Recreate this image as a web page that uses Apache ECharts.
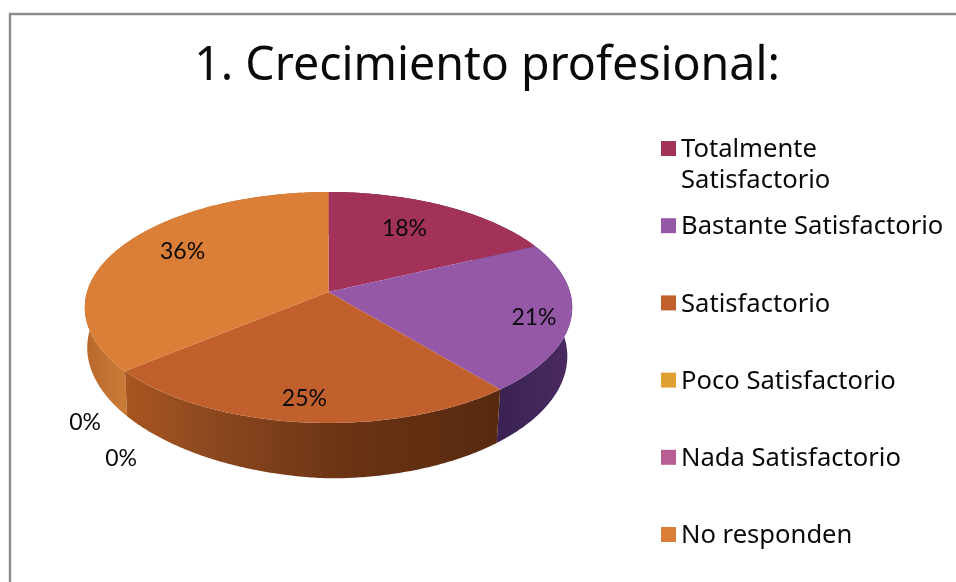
<!DOCTYPE html>
<html><head><meta charset="utf-8">
<style>html,body{margin:0;padding:0;background:#fff}#c{width:956px;height:582px}</style>
<script src="https://cdn.jsdelivr.net/npm/echarts@6/dist/echarts.min.js"></script>
</head><body><div id="c"></div>
<script>
const titleText = '1. Crecimiento profesional:';
const categories = ['Totalmente Satisfactorio','Bastante Satisfactorio','Satisfactorio','Poco Satisfactorio','Nada Satisfactorio','No responden'];
const legendLines = [['Totalmente','Satisfactorio'],['Bastante Satisfactorio'],['Satisfactorio'],['Poco Satisfactorio'],['Nada Satisfactorio'],['No responden']];
const values = [18,21,25,0,0,36];
const topColors = ['#A3325B','#9558A7','#C1602D','#DFA030','#B85E92','#DB7E37'];
const sideStops = [
  [[0,'#6d2140'],[1,'#6d2140']],
  [[0,'#3a2252'],[1,'#4a2a62']],
  [[0,'#aa5620'],[0.2,'#8f4a20'],[0.6,'#6a3314'],[1,'#58290f']],
  [[0,'#a87420'],[1,'#a87420']],
  [[0,'#80406a'],[1,'#80406a']],
  [[0,'#b8662a'],[0.15,'#c97a36'],[1,'#c97a36']]];
// label placement: radial fraction along the slice's mid-angle, plus a nudge in px
const labelPlace = [[0.62,1,-8],[0.83,5,5],[0.72,-6,17],[1,-40,52],[1,-4,88],[0.66,-7,-10]];

const PIE = {cx:328.5, cy:292, rx:241.5, ry:113.4, k:0.134, depth:48, rightScale:0.98, leftScale:0.99, leftLift:0.18};
const total = values.reduce((a,b)=>a+b,0);
function startOf(i){let s=0;for(let j=0;j<i;j++)s+=values[j];return s/total*Math.PI*2;}
function project(t,f,base){
  const u=Math.sin(t)*f, v=-Math.cos(t)*f, w=1-PIE.k*v;
  const s=base?(u<0?PIE.leftScale:PIE.rightScale):1;
  const d=base?PIE.depth*(1+PIE.leftLift*Math.min(u,0))/w:0;
  return [PIE.cx+PIE.rx*s*u/w, PIE.cy+PIE.ry*v/w+d];
}
function arc(a,b,base){
  const n=Math.max(2,Math.ceil((b-a)/0.01)),p=[];
  for(let i=0;i<=n;i++)p.push(project(a+(b-a)*i/n,1,base));
  return p;
}
function sideItem(params,api){
  const i=params.dataIndex,v=api.value(0);
  if(!v)return null;
  const a=startOf(i),b=a+v/total*Math.PI*2;
  const pts=arc(a,b,false).concat(arc(a,b,true).reverse());
  return {type:'polygon',shape:{points:pts},z2:i===2?3:1,style:{
    fill:{type:'linear',x:0,y:0,x2:1,y2:0,colorStops:sideStops[i].map(s=>({offset:s[0],color:s[1]}))}}};
}
function topItem(params,api){
  const i=params.dataIndex,v=api.value(0);
  if(!v)return null;
  const a=startOf(i),b=a+v/total*Math.PI*2;
  const pts=[[PIE.cx,PIE.cy]].concat(arc(a,b,false));
  return {type:'polygon',shape:{points:pts},style:{fill:topColors[i]}};
}
function labelItem(params,api){
  const i=params.dataIndex,v=api.value(0);
  const a=startOf(i),b=a+v/total*Math.PI*2,lp=labelPlace[i];
  const p=project((a+b)/2,lp[0],false);
  return {type:'text',x:p[0]+lp[1],y:p[1]+lp[2],style:{text:v+'%',fill:'#0a0a0a',
    font:'23px Lato',align:'center',verticalAlign:'middle'}};
}
const rows=values.map((v,i)=>({name:categories[i],value:[v]}));
const legendEls=[];
const lx=661, ly=141, lstep=77.2;
legendLines.forEach((lines,i)=>{
  const y=ly+i*lstep;
  legendEls.push({type:'rect',shape:{x:lx,y:y,width:15,height:15},style:{fill:topColors[i]}});
  lines.forEach((t,j)=>legendEls.push({type:'text',x:lx+20,y:y+9+j*30.5,
    style:{text:t,fill:'#0a0a0a',font:'25.6px "Noto Sans"',verticalAlign:'middle'}}));
});
const frame={type:'polyline',shape:{points:[[10,582],[10,14],[956,14]]},
  style:{stroke:'#8c8c8c',lineWidth:2.4,fill:null}};
const chart=echarts.init(document.getElementById('c'),null,{renderer:'canvas'});
chart.setOption({
  animation:false,
  backgroundColor:'#fff',
  title:{text:titleText,left:482,top:38,textAlign:'center',
    textStyle:{fontFamily:'Noto Sans',fontWeight:'normal',fontSize:46.5,color:'#0a0a0a'}},
  graphic:{elements:[frame].concat(legendEls)},
  series:[
    {type:'custom',name:'lateral',coordinateSystem:'none',z:1,renderItem:sideItem,data:rows,silent:true},
    {type:'custom',name:'superficie',coordinateSystem:'none',z:2,renderItem:topItem,data:rows,silent:true},
    {type:'custom',name:'etiquetas',coordinateSystem:'none',z:3,renderItem:labelItem,data:rows,silent:true}
  ]
});
</script></body></html>
